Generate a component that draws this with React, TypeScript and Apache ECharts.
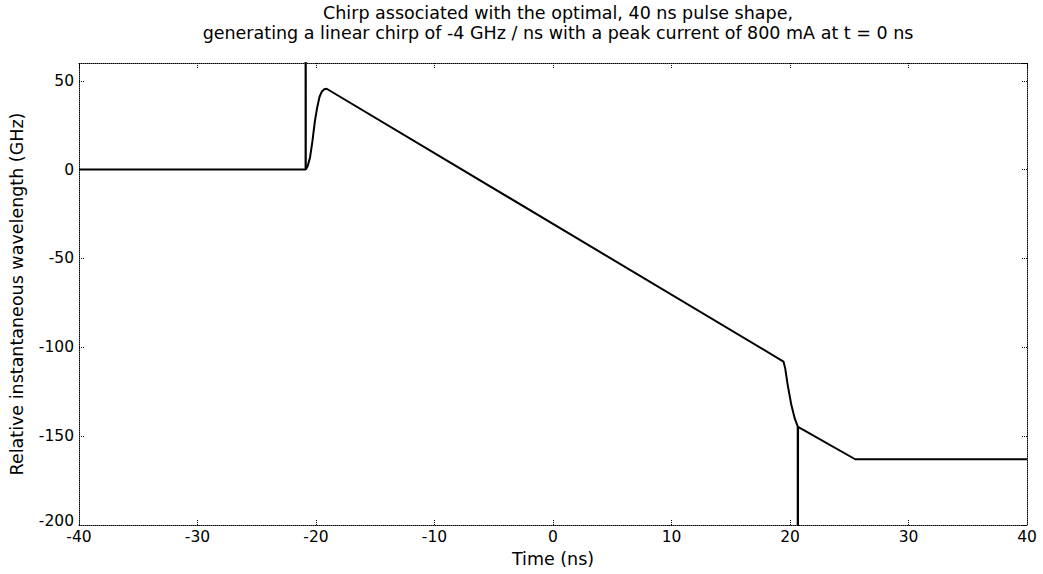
import React, { useEffect, useRef } from "react";
import * as echarts from "echarts";

const titleLines = [
  "Chirp associated with the optimal, 40 ns pulse shape,",
  "generating a linear chirp of -4 GHz / ns with a peak current of 800 mA at t = 0 ns",
];
const xName = "Time (ns)";
const yName = "Relative instantaneous wavelength (GHz)";

const timeNs = [
  -40, -20.88, -20.88, -20.86, -20.7, -20.5, -20.3, -20.1, -19.9, -19.7, -19.5, -19.3, -19.1,
  19.45, 19.6, 19.8, 20.1, 20.4, 20.65, 20.66, 20.68, 20.7, 25.5, 40,
];
const chirpGHz = [
  0, 0, 400, 0, 2, 7, 16, 27, 35, 41, 44, 45.2, 45.5,
  -108, -112, -121, -132, -140, -144.5, -400, -144.8, -145, -163, -163,
];

const font = "'DejaVu Sans', 'Liberation Sans', Arial, sans-serif";

export default function App() {
  const ref = useRef<HTMLDivElement>(null);
  useEffect(() => {
    if (!ref.current) return;
    const chart = echarts.init(ref.current, null, { renderer: "svg" });
    const axisLine = { show: true, onZero: false, lineStyle: { color: "#000", type: "dotted" as const, width: 1 } };
    const axisTick = { show: true, inside: true, length: 5, lineStyle: { color: "#000", type: "dotted" as const } };
    chart.setOption({
      animation: false,
      backgroundColor: "#fff",
      title: {
        text: titleLines.join("\n"),
        left: 553,
        textAlign: "center",
        top: -2,
        textStyle: { fontFamily: font, fontSize: 17.5, fontWeight: "normal", color: "#000", lineHeight: 20 },
      },
      grid: { left: 78, right: 16, top: 63, bottom: 49, containLabel: false },
      xAxis: [
        {
          type: "value",
          min: -40,
          max: 40,
          interval: 10,
          position: "bottom",
          name: xName,
          nameLocation: "middle",
          nameGap: 23,
          nameTextStyle: { fontFamily: font, fontSize: 17.5, color: "#000" },
          axisLine,
          axisTick,
          axisLabel: { fontFamily: font, fontSize: 15.5, color: "#000", margin: 4 },
          splitLine: { show: false },
        },
        {
          type: "value",
          min: -40,
          max: 40,
          interval: 10,
          position: "top",
          axisLine,
          axisTick,
          axisLabel: { show: false },
          splitLine: { show: false },
        },
      ],
      yAxis: [
        {
          type: "value",
          min: -200,
          max: 60,
          interval: 50,
          position: "left",
          name: yName,
          nameLocation: "middle",
          nameGap: 53,
          nameTextStyle: { fontFamily: font, fontSize: 17.5, color: "#000" },
          axisLine,
          axisTick,
          axisLabel: {
            fontFamily: font,
            fontSize: 15.5,
            color: "#000",
            margin: 5,
            formatter: (v: number) => (v === 60 ? "" : v === -200 ? "{low|-200}" : String(v)),
            rich: { low: { fontFamily: font, fontSize: 15.5, color: "#000", padding: [0, 0, 9, 0] } },
          },
          splitLine: { show: false },
        },
        {
          type: "value",
          min: -200,
          max: 60,
          interval: 50,
          position: "right",
          axisLine,
          axisTick,
          axisLabel: { show: false },
          splitLine: { show: false },
        },
      ],
      series: [
        {
          type: "line",
          data: timeNs.map((t, i) => [t, chirpGHz[i]]),
          showSymbol: false,
          symbol: "none",
          clip: true,
          lineStyle: { color: "#000", width: 2 },
          xAxisIndex: 0,
          yAxisIndex: 0,
        },
      ],
    });
    return () => chart.dispose();
  }, []);
  return <div ref={ref} style={{ width: 1043, height: 574, position: "absolute", left: 0, top: 0 }} />;
}
